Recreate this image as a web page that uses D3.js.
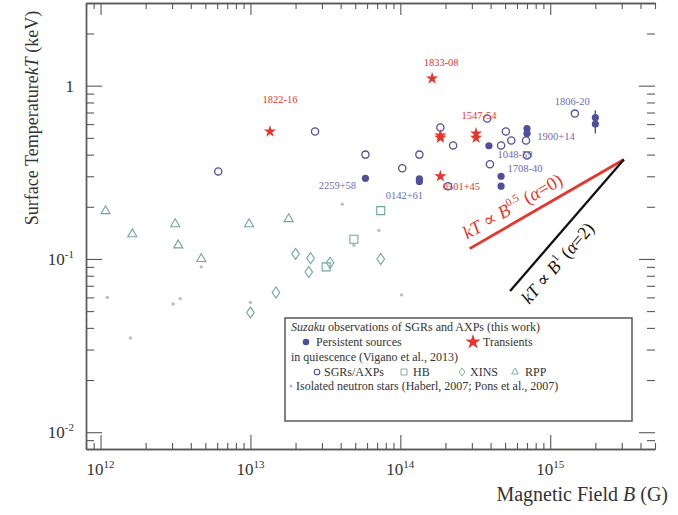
<!DOCTYPE html>
<html>
<head>
<meta charset="utf-8">
<script src="https://cdn.jsdelivr.net/npm/d3@7"></script>
<style>
  body { margin: 0; background: #fff; }
  svg { font-family: "Liberation Serif", "DejaVu Serif", serif; }
</style>
</head>
<body>
<svg id="chart" width="678" height="515"></svg>
<script>
// ---- Data: magnetic field B (G) and surface temperature kT (keV) ----

// Suzaku: persistent sources (filled circles)
const persistentB  = [5.85e13, 1.34e14, 1.34e14, 3.9e14, 4.7e14, 4.7e14, 7.0e14, 7.0e14, 2.0e15, 2.0e15];
const persistentT  = [0.292,   0.29,    0.28,    0.45,  0.30,  0.263, 0.566, 0.53,  0.655, 0.60];

// Error bars on a few persistent sources
const errB    = [1.34e14, 7.0e14, 2.0e15];
const errLow  = [0.27,    0.52,   0.53];
const errHigh = [0.30,    0.58,   0.72];

// Suzaku: transients (stars)
const transientB = [1.35e13, 1.63e14, 1.85e14, 1.85e14, 1.85e14, 3.2e14, 3.2e14];
const transientT = [0.544,   1.10,    0.516,   0.50,    0.30,    0.53,   0.50];

// Vigano et al. 2013, in quiescence
const sgrAxpB = [6.1e12, 2.7e13, 5.85e13, 1.03e14, 1.34e14, 1.85e14, 2.08e14, 2.25e14, 3.8e14, 3.96e14, 4.7e14, 5.06e14, 5.5e14, 6.9e14, 7.0e14, 1.46e15];
const sgrAxpT = [0.32,   0.544,  0.40,    0.334,   0.40,    0.574,   0.263,   0.452,   0.646,  0.352,   0.452,  0.544,   0.483,  0.483,  0.396,  0.69];

const hbB = [3.2e13, 4.9e13, 7.4e13];
const hbT = [0.09,   0.13,   0.19];

const xinsB = [1.0e13, 1.48e13, 2.0e13, 2.52e13, 2.45e13, 3.4e13, 7.4e13];
const xinsT = [0.049,  0.064,   0.107,  0.101,   0.084,   0.095,  0.10];

const rppB = [1.08e12, 1.63e12, 3.15e12, 3.3e12, 4.7e12, 9.8e12, 1.8e13];
const rppT = [0.189,   0.139,   0.159,   0.12,   0.10,   0.159,  0.17];

// Isolated neutron stars (Haberl 2007; Pons et al. 2007)
const insB = [1.11e12, 1.58e12, 3.05e12, 3.4e12, 4.7e12, 1.0e13, 4.1e13, 4.9e13, 7.2e13, 1.02e14];
const insT = [0.060,   0.035,   0.055,   0.059,  0.090,  0.056,  0.207,  0.12,   0.146,  0.062];

// Source names, each tied to one plotted point
const transientNames = ["1822-16", "1833-08", "1547-54", "0501+45"];
const transientNameB = [1.35e13, 1.63e14, 3.2e14, 1.85e14];
const transientNameT = [0.544, 1.10, 0.53, 0.30];

const persistentNames = ["2259+58", "0142+61", "1048-59", "1708-40", "1900+14", "1806-20"];
const persistentNameB = [5.85e13, 1.34e14, 3.9e14, 4.7e14, 7.0e14, 2.0e15];
const persistentNameT = [0.292, 0.29, 0.45, 0.30, 0.55, 0.63];

// Reference slopes kT ∝ B^n, both ending at the same point
const slopeEndB = 3.1e15, slopeEndT = 0.375;
const slopeIndex  = [0.5, 1];
const slopeStartB = [2.9e14, 5.4e14];

// Axis ticks
const xMajor = [1e12, 1e13, 1e14, 1e15];
const xMajorExp = ["12", "13", "14", "15"];
const yMajor = [1, 0.1, 0.01];
const yMajorLabel = [["1", ""], ["10", "-1"], ["10", "-2"]];

// ---- Layout ----
const svg = d3.select("#chart");
const L = 86, R = 655, T = 3, Bt = 449;
const x = d3.scaleLog().domain([8e11, 5e15]).range([L, R]);
const y = d3.scaleLog().domain([8e-3, 3]).range([Bt, T]);

const axisColor = "#585858";
const blue = "#4f4f9e";
const blueText = "#6b6bb5";
const red = "#e8352b";
const teal = "#6ea896";
const gray = "#bdbdbd";

// label offsets (pixels) relative to their points
const transientNameOffset = [[10, -28], [9, -12], [3, -14], [21, 14]];
const persistentNameOffset = [[-28, 11], [-15, 20], [26, 12], [24, -4], [29, 9], [-23, -15]];

// minor ticks
function minorTicks(lo, hi) {
  const out = [];
  for (let e = Math.floor(Math.log10(lo)); e <= Math.ceil(Math.log10(hi)); e++) {
    for (let k = 1; k <= 9; k++) {
      const v = k * Math.pow(10, e);
      if (v >= lo && v <= hi) out.push(v);
    }
  }
  return out;
}
const xMinor = minorTicks(8e11, 5e15).filter(v => !xMajor.includes(v));
const yMinor = minorTicks(8e-3, 3).filter(v => !yMajor.some(m => Math.abs(m - v) / v < 1e-9));

function styleAxis(g) {
  g.selectAll("path.domain").attr("stroke", axisColor).attr("stroke-width", 1.4);
  g.selectAll(".tick line").attr("stroke", axisColor).attr("stroke-width", 1.1);
  g.selectAll(".tick text").remove();
}

// bottom axis
svg.append("g").attr("transform", `translate(0,${Bt})`)
  .call(d3.axisBottom(x).tickValues(xMinor).tickSize(-6).tickSizeOuter(0).tickFormat(""))
  .call(styleAxis);
svg.append("g").attr("transform", `translate(0,${Bt})`)
  .call(d3.axisBottom(x).tickValues(xMajor).tickSize(-14).tickSizeOuter(0).tickFormat(""))
  .call(styleAxis);
// top axis
svg.append("g").attr("transform", `translate(0,${T})`)
  .call(d3.axisTop(x).tickValues(xMinor).tickSize(-6).tickSizeOuter(0).tickFormat(""))
  .call(styleAxis);
svg.append("g").attr("transform", `translate(0,${T})`)
  .call(d3.axisTop(x).tickValues(xMajor).tickSize(-12).tickSizeOuter(0).tickFormat(""))
  .call(styleAxis);
// left axis
svg.append("g").attr("transform", `translate(${L},0)`)
  .call(d3.axisLeft(y).tickValues(yMinor).tickSize(-8).tickSizeOuter(0).tickFormat(""))
  .call(styleAxis);
svg.append("g").attr("transform", `translate(${L},0)`)
  .call(d3.axisLeft(y).tickValues(yMajor).tickSize(-16).tickSizeOuter(0).tickFormat(""))
  .call(styleAxis);
// right side: ticks only
svg.append("g").attr("transform", `translate(${R},0)`)
  .call(d3.axisRight(y).tickValues(yMinor).tickSize(-8).tickSizeOuter(0).tickFormat(""))
  .call(styleAxis).call(g => g.select("path.domain").remove());
svg.append("g").attr("transform", `translate(${R},0)`)
  .call(d3.axisRight(y).tickValues(yMajor).tickSize(-16).tickSizeOuter(0).tickFormat(""))
  .call(styleAxis).call(g => g.select("path.domain").remove());

// x tick labels 10^n
xMajor.forEach((v, i) => {
  const t = svg.append("text").attr("x", x(v)).attr("y", 475)
    .attr("text-anchor", "middle").attr("font-size", 17).attr("fill", "#333");
  t.append("tspan").text("10");
  t.append("tspan").attr("dy", -7).attr("font-size", 11).text(xMajorExp[i]);
});
// y tick labels
yMajor.forEach((v, i) => {
  const t = svg.append("text").attr("x", 74).attr("y", y(v) + 6)
    .attr("text-anchor", "end").attr("font-size", 17).attr("fill", "#333");
  t.append("tspan").text(yMajorLabel[i][0]);
  if (yMajorLabel[i][1]) t.append("tspan").attr("dy", -7).attr("font-size", 11).text(yMajorLabel[i][1]);
});

// axis titles
const xt = svg.append("text").attr("x", 668).attr("y", 501).attr("text-anchor", "end")
  .attr("font-size", 20).attr("fill", "#333");
xt.append("tspan").text("Magnetic Field ");
xt.append("tspan").attr("font-style", "italic").text("B");
xt.append("tspan").text(" (G)");

const yt = svg.append("text").attr("transform", "translate(38,118) rotate(-90)")
  .attr("text-anchor", "middle").attr("font-size", 18).attr("fill", "#333");
yt.append("tspan").text("Surface Temperature");
yt.append("tspan").attr("font-style", "italic").text("kT");
yt.append("tspan").text(" (keV)");

// ---- Symbols ----
const starPath = d3.symbol(d3.symbolStar, 46)();
const starLegendPath = d3.symbol(d3.symbolStar, 72)();
const triPath = d3.symbol(d3.symbolTriangle, 36)();
const diamondPath = "M0,-5.5L3.8,0L0,5.5L-3.8,0Z";
const squarePath = "M-4,-4H4V4H-4Z";

const plot = svg.append("g");

// isolated neutron stars
plot.selectAll(".ins").data(d3.zip(insB, insT)).join("circle")
  .attr("cx", d => x(d[0])).attr("cy", d => y(d[1])).attr("r", 1.7).attr("fill", gray);

// RPP triangles
plot.selectAll(".rpp").data(d3.zip(rppB, rppT)).join("path")
  .attr("d", triPath).attr("transform", d => `translate(${x(d[0])},${y(d[1])})`)
  .attr("fill", "none").attr("stroke", teal).attr("stroke-width", 1.1);

// XINS diamonds
plot.selectAll(".xins").data(d3.zip(xinsB, xinsT)).join("path")
  .attr("d", diamondPath).attr("transform", d => `translate(${x(d[0])},${y(d[1])})`)
  .attr("fill", "none").attr("stroke", teal).attr("stroke-width", 1.1);

// HB squares
plot.selectAll(".hb").data(d3.zip(hbB, hbT)).join("path")
  .attr("d", squarePath).attr("transform", d => `translate(${x(d[0])},${y(d[1])})`)
  .attr("fill", "none").attr("stroke", teal).attr("stroke-width", 1.1);

// SGR/AXP open circles
plot.selectAll(".sgr").data(d3.zip(sgrAxpB, sgrAxpT)).join("circle")
  .attr("cx", d => x(d[0])).attr("cy", d => y(d[1])).attr("r", 3.6)
  .attr("fill", "none").attr("stroke", blue).attr("stroke-width", 1.3);

// error bars
plot.selectAll(".err").data(d3.zip(errB, errLow, errHigh)).join("line")
  .attr("x1", d => x(d[0])).attr("x2", d => x(d[0]))
  .attr("y1", d => y(d[1])).attr("y2", d => y(d[2]))
  .attr("stroke", blue).attr("stroke-width", 1.4);

// persistent filled circles
plot.selectAll(".pers").data(d3.zip(persistentB, persistentT)).join("circle")
  .attr("cx", d => x(d[0])).attr("cy", d => y(d[1])).attr("r", 3.6).attr("fill", blue);

// transient stars
plot.selectAll(".tran").data(d3.zip(transientB, transientT)).join("path")
  .attr("d", starPath).attr("transform", d => `translate(${x(d[0])},${y(d[1])})`)
  .attr("fill", red);

// source names
transientNames.forEach((n, i) => {
  plot.append("text")
    .attr("x", x(transientNameB[i]) + transientNameOffset[i][0])
    .attr("y", y(transientNameT[i]) + transientNameOffset[i][1])
    .attr("text-anchor", "middle").attr("font-size", 10.5).attr("fill", red).text(n);
});
persistentNames.forEach((n, i) => {
  plot.append("text")
    .attr("x", x(persistentNameB[i]) + persistentNameOffset[i][0])
    .attr("y", y(persistentNameT[i]) + persistentNameOffset[i][1])
    .attr("text-anchor", "middle").attr("font-size", 10.5).attr("fill", blueText).text(n);
});

// reference slope lines
const slopeColor = [red, "#111"];
const slopeWidth = [2.8, 2.3];
slopeIndex.forEach((n, i) => {
  const b0 = slopeStartB[i];
  const t0 = slopeEndT * Math.pow(b0 / slopeEndB, n);
  plot.append("line")
    .attr("x1", x(b0)).attr("y1", y(t0))
    .attr("x2", x(slopeEndB)).attr("y2", y(slopeEndT))
    .attr("stroke", slopeColor[i]).attr("stroke-width", slopeWidth[i]);
});

// slope annotations
(function () {
  // red: kT ∝ B^0.5 (α=0), above its line
  const b0 = slopeStartB[0], t0 = slopeEndT * Math.pow(b0 / slopeEndB, 0.5);
  const ang = Math.atan2(y(slopeEndT) - y(t0), x(slopeEndB) - x(b0)) * 180 / Math.PI;
  const t = plot.append("text").attr("transform", `translate(${x(b0) + 46},${y(t0) - 37}) rotate(${ang})`)
    .attr("text-anchor", "middle").attr("font-size", 18.5).attr("fill", red);
  t.append("tspan").attr("font-style", "italic").text("kT");
  t.append("tspan").text(" ∝ ");
  t.append("tspan").attr("font-style", "italic").text("B");
  t.append("tspan").attr("dy", -8).attr("font-size", 11).text("0.5");
  t.append("tspan").attr("dy", 8).text(" (");
  t.append("tspan").attr("font-style", "italic").text("α");
  t.append("tspan").text("=0)");

  // black: kT ∝ B^1 (α=2), below-right of its line
  const b1 = slopeStartB[1], t1 = slopeEndT * Math.pow(b1 / slopeEndB, 1);
  const ang1 = Math.atan2(y(slopeEndT) - y(t1), x(slopeEndB) - x(b1)) * 180 / Math.PI;
  const k = plot.append("text").attr("transform", `translate(${x(b1) + 52},${y(t1) - 24}) rotate(${ang1})`)
    .attr("text-anchor", "middle").attr("font-size", 18).attr("fill", "#111");
  k.append("tspan").attr("font-style", "italic").text("kT");
  k.append("tspan").text(" ∝ ");
  k.append("tspan").attr("font-style", "italic").text("B");
  k.append("tspan").attr("dy", -8).attr("font-size", 11).text("1");
  k.append("tspan").attr("dy", 8).text(" (");
  k.append("tspan").attr("font-style", "italic").text("α");
  k.append("tspan").text("=2)");
})();

// ---- Legend ----
const lg = svg.append("g");
lg.append("rect").attr("x", 285).attr("y", 318).attr("width", 347).attr("height", 103)
  .attr("fill", "#fff").attr("stroke", axisColor).attr("stroke-width", 1.5);
const fs = 12, tc = "#333";
const l1 = lg.append("text").attr("x", 291).attr("y", 331).attr("font-size", fs).attr("fill", tc);
l1.append("tspan").attr("font-style", "italic").text("Suzaku");
l1.append("tspan").text(" observations of SGRs and AXPs (this work)");

lg.append("circle").attr("cx", 306).attr("cy", 342).attr("r", 3.3).attr("fill", blue);
lg.append("text").attr("x", 316).attr("y", 346).attr("font-size", fs).attr("fill", tc).text("Persistent sources");
lg.append("path").attr("d", starLegendPath).attr("transform", "translate(473,342)").attr("fill", red);
lg.append("text").attr("x", 483).attr("y", 346).attr("font-size", fs).attr("fill", tc).text("Transients");

lg.append("text").attr("x", 291).attr("y", 361).attr("font-size", fs).attr("fill", tc).text("in quiescence (Vigano et al., 2013)");

lg.append("circle").attr("cx", 317).attr("cy", 372).attr("r", 2.8)
  .attr("fill", "none").attr("stroke", blue).attr("stroke-width", 1.1);
lg.append("text").attr("x", 324).attr("y", 376).attr("font-size", fs).attr("fill", tc).text("SGRs/AXPs");
lg.append("path").attr("d", "M-3,-3H3V3H-3Z").attr("transform", "translate(404,372)")
  .attr("fill", "none").attr("stroke", teal).attr("stroke-width", 0.9);
lg.append("text").attr("x", 413).attr("y", 376).attr("font-size", fs).attr("fill", tc).text("HB");
lg.append("path").attr("d", "M0,-4L3,0L0,4L-3,0Z").attr("transform", "translate(462,372)")
  .attr("fill", "none").attr("stroke", teal).attr("stroke-width", 0.9);
lg.append("text").attr("x", 470).attr("y", 376).attr("font-size", fs).attr("fill", tc).text("XINS");
lg.append("path").attr("d", d3.symbol(d3.symbolTriangle, 20)()).attr("transform", "translate(515,372)")
  .attr("fill", "none").attr("stroke", teal).attr("stroke-width", 0.9);
lg.append("text").attr("x", 525).attr("y", 376).attr("font-size", fs).attr("fill", tc).text("RPP");

lg.append("circle").attr("cx", 291).attr("cy", 386).attr("r", 1.6).attr("fill", gray);
lg.append("text").attr("x", 296).attr("y", 390).attr("font-size", fs).attr("fill", tc)
  .text("Isolated neutron stars (Haberl, 2007; Pons et al., 2007)");
</script>
</body>
</html>
